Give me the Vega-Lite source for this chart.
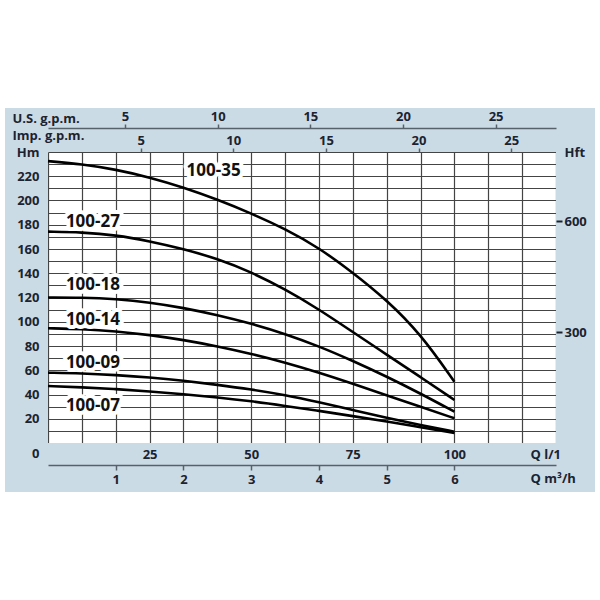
{
  "$schema": "https://vega.github.io/schema/vega-lite/v6.json",
  "width": 508,
  "height": 291,
  "autosize": {"type": "none"},
  "padding": {"left": 48, "top": 152, "right": 44, "bottom": 157},
  "background": "white",
  "config": {
    "view": {"fill": "white", "stroke": null},
    "font": "Open Sans",
    "axis": {
      "labelFont": "Open Sans",
      "labelFontWeight": "bold",
      "labelFontSize": 13,
      "labelColor": "#1b2330",
      "titleFont": "Open Sans",
      "titleFontWeight": "bold",
      "titleFontSize": 13,
      "titleColor": "#1b2330",
      "labelFlush": false,
      "labelOverlap": false
    }
  },
  "datasets": {
    "curves": [
      {"pump": "100-35", "q": 0, "h": 232.5}, {"pump": "100-35", "q": 8.33, "h": 230}, {"pump": "100-35", "q": 16.67, "h": 225.6}, {"pump": "100-35", "q": 25, "h": 219.1}, {"pump": "100-35", "q": 33.33, "h": 210.8}, {"pump": "100-35", "q": 41.67, "h": 200.8}, {"pump": "100-35", "q": 50, "h": 189.4}, {"pump": "100-35", "q": 58.33, "h": 176.6}, {"pump": "100-35", "q": 66.67, "h": 161}, {"pump": "100-35", "q": 75, "h": 140.6}, {"pump": "100-35", "q": 83.33, "h": 118}, {"pump": "100-35", "q": 91.67, "h": 90}, {"pump": "100-35", "q": 100, "h": 50.5},
      {"pump": "100-27", "q": 0, "h": 174.3}, {"pump": "100-27", "q": 8.33, "h": 173.8}, {"pump": "100-27", "q": 16.67, "h": 171.5}, {"pump": "100-27", "q": 25, "h": 166.5}, {"pump": "100-27", "q": 33.33, "h": 160}, {"pump": "100-27", "q": 41.67, "h": 152}, {"pump": "100-27", "q": 50, "h": 141}, {"pump": "100-27", "q": 58.33, "h": 126.8}, {"pump": "100-27", "q": 66.67, "h": 110.3}, {"pump": "100-27", "q": 75, "h": 91.5}, {"pump": "100-27", "q": 83.33, "h": 72.9}, {"pump": "100-27", "q": 91.67, "h": 54.3}, {"pump": "100-27", "q": 100, "h": 35.5},
      {"pump": "100-18", "q": 0, "h": 120}, {"pump": "100-18", "q": 8.33, "h": 120}, {"pump": "100-18", "q": 16.67, "h": 118.8}, {"pump": "100-18", "q": 25, "h": 116}, {"pump": "100-18", "q": 33.33, "h": 111.5}, {"pump": "100-18", "q": 41.67, "h": 105.5}, {"pump": "100-18", "q": 50, "h": 98.5}, {"pump": "100-18", "q": 58.33, "h": 90}, {"pump": "100-18", "q": 66.67, "h": 79.8}, {"pump": "100-18", "q": 75, "h": 67.8}, {"pump": "100-18", "q": 83.33, "h": 54.8}, {"pump": "100-18", "q": 91.67, "h": 40.8}, {"pump": "100-18", "q": 100, "h": 25.8},
      {"pump": "100-14", "q": 0, "h": 94.6}, {"pump": "100-14", "q": 8.33, "h": 94}, {"pump": "100-14", "q": 16.67, "h": 92.2}, {"pump": "100-14", "q": 25, "h": 89.2}, {"pump": "100-14", "q": 33.33, "h": 85}, {"pump": "100-14", "q": 41.67, "h": 79.8}, {"pump": "100-14", "q": 50, "h": 73.6}, {"pump": "100-14", "q": 58.33, "h": 66.4}, {"pump": "100-14", "q": 66.67, "h": 58.1}, {"pump": "100-14", "q": 75, "h": 48.9}, {"pump": "100-14", "q": 83.33, "h": 39.3}, {"pump": "100-14", "q": 91.67, "h": 29.8}, {"pump": "100-14", "q": 100, "h": 20.4},
      {"pump": "100-09", "q": 0, "h": 58}, {"pump": "100-09", "q": 8.33, "h": 57.5}, {"pump": "100-09", "q": 16.67, "h": 56.1}, {"pump": "100-09", "q": 25, "h": 54.2}, {"pump": "100-09", "q": 33.33, "h": 51.4}, {"pump": "100-09", "q": 41.67, "h": 48}, {"pump": "100-09", "q": 50, "h": 44.2}, {"pump": "100-09", "q": 58.33, "h": 39.6}, {"pump": "100-09", "q": 66.67, "h": 33.6}, {"pump": "100-09", "q": 75, "h": 27.2}, {"pump": "100-09", "q": 83.33, "h": 20.8}, {"pump": "100-09", "q": 91.67, "h": 14.8}, {"pump": "100-09", "q": 100, "h": 9.3},
      {"pump": "100-07", "q": 0, "h": 47}, {"pump": "100-07", "q": 8.33, "h": 46}, {"pump": "100-07", "q": 16.67, "h": 44.5}, {"pump": "100-07", "q": 25, "h": 42.5}, {"pump": "100-07", "q": 33.33, "h": 40.2}, {"pump": "100-07", "q": 41.67, "h": 37.6}, {"pump": "100-07", "q": 50, "h": 34.5}, {"pump": "100-07", "q": 58.33, "h": 30.6}, {"pump": "100-07", "q": 66.67, "h": 26.5}, {"pump": "100-07", "q": 75, "h": 22.2}, {"pump": "100-07", "q": 83.33, "h": 17.7}, {"pump": "100-07", "q": 91.67, "h": 13}, {"pump": "100-07", "q": 100, "h": 8.2}
    ],
    "labels": [
      {"label": "100-35", "q": 34.1, "h": 224.6},
      {"label": "100-27", "q": 4.4, "h": 182.5},
      {"label": "100-18", "q": 4.4, "h": 130.3},
      {"label": "100-14", "q": 4.4, "h": 101.4},
      {"label": "100-09", "q": 4.4, "h": 66.2},
      {"label": "100-07", "q": 4.4, "h": 30.5}
    ]
  },
  "layer": [
    {
      "data": {"values": [{"part": "panel top"}]},
      "mark": {"type": "rect", "color": "#cbdbe5"},
      "encoding": {
        "x": {"datum": -10.58, "type": "quantitative", "scale": {"domain": [0, 125], "nice": false, "zero": false}, "axis": null},
        "x2": {"datum": 134.6},
        "y": {"datum": 240, "type": "quantitative", "scale": {"domain": [0, 240], "nice": false, "zero": false}, "axis": null},
        "y2": {"datum": 276.3}
      }
    },
    {
      "data": {"values": [{"part": "panel bottom"}]},
      "mark": {"type": "rect", "color": "#cbdbe5"},
      "encoding": {
        "x": {"datum": -10.58, "type": "quantitative", "scale": {"domain": [0, 125], "nice": false, "zero": false}, "axis": null},
        "x2": {"datum": 134.6},
        "y": {"datum": -40.4, "type": "quantitative", "scale": {"domain": [0, 240], "nice": false, "zero": false}, "axis": null},
        "y2": {"datum": 0}
      }
    },
    {
      "data": {"values": [{"part": "panel left"}]},
      "mark": {"type": "rect", "color": "#cbdbe5"},
      "encoding": {
        "x": {"datum": -10.58, "type": "quantitative", "scale": {"domain": [0, 125], "nice": false, "zero": false}, "axis": null},
        "x2": {"datum": 0},
        "y": {"datum": 0, "type": "quantitative", "scale": {"domain": [0, 240], "nice": false, "zero": false}, "axis": null},
        "y2": {"datum": 240}
      }
    },
    {
      "data": {"values": [{"part": "panel right"}]},
      "mark": {"type": "rect", "color": "#cbdbe5"},
      "encoding": {
        "x": {"datum": 125, "type": "quantitative", "scale": {"domain": [0, 125], "nice": false, "zero": false}, "axis": null},
        "x2": {"datum": 134.6},
        "y": {"datum": 0, "type": "quantitative", "scale": {"domain": [0, 240], "nice": false, "zero": false}, "axis": null},
        "y2": {"datum": 240}
      }
    },
    {
      "data": {"name": "curves"},
      "mark": {"type": "line", "color": "black", "strokeWidth": 2.6, "interpolate": "basis"},
      "encoding": {
        "x": {
          "field": "q", "type": "quantitative",
          "scale": {"domain": [0, 125], "nice": false, "zero": false},
          "axis": {"orient": "bottom", "grid": true, "values": [0, 8.3333, 16.6667, 25, 33.3333, 41.6667, 50, 58.3333, 66.6667, 75, 83.3333, 91.6667, 100, 108.3333, 116.6667, 125], "labels": false, "ticks": false, "domain": false, "title": null, "gridColor": "#444444", "gridWidth": 1.2, "gridOpacity": 1, "zindex": 0}
        },
        "y": {
          "field": "h", "type": "quantitative",
          "scale": {"domain": [0, 240], "nice": false, "zero": false},
          "axis": {"orient": "left", "grid": true, "values": [0, 10, 20, 30, 40, 50, 60, 70, 80, 90, 100, 110, 120, 130, 140, 150, 160, 170, 180, 190, 200, 210, 220, 230, 240], "labels": false, "ticks": false, "domain": false, "title": null, "gridColor": "#444444", "gridWidth": 1.2, "gridOpacity": 1, "zindex": 0}
        },
        "detail": {"field": "pump"}
      }
    },
    {
      "data": {"name": "labels"},
      "mark": {"type": "text", "align": "left", "baseline": "middle", "font": "Open Sans", "fontWeight": "bold", "fontSize": 17, "fill": "white", "stroke": "white", "strokeWidth": 8, "strokeJoin": "round"},
      "encoding": {
        "x": {"field": "q", "type": "quantitative", "scale": {"domain": [0, 125], "nice": false, "zero": false}, "axis": null},
        "y": {"field": "h", "type": "quantitative", "scale": {"domain": [0, 240], "nice": false, "zero": false}, "axis": null},
        "text": {"field": "label"}
      }
    },
    {
      "data": {"name": "labels"},
      "mark": {"type": "text", "align": "left", "baseline": "middle", "font": "Open Sans", "fontWeight": "bold", "fontSize": 17, "fill": "#111111"},
      "encoding": {
        "x": {
          "field": "q", "type": "quantitative",
          "scale": {"domain": [0, 125], "nice": false, "zero": false},
          "axis": {"orient": "bottom", "values": [25, 50, 75, 100], "grid": false, "ticks": false, "tickSize": 0, "domain": false, "labelPadding": 5, "title": "Q l/1", "titleX": 482, "titleY": 11, "titleAlign": "left", "titleBaseline": "middle", "titleAngle": 0, "zindex": 1}
        },
        "y": {
          "field": "h", "type": "quantitative",
          "scale": {"domain": [0, 240], "nice": false, "zero": false},
          "axis": {"orient": "left", "values": [0, 20, 40, 60, 80, 100, 120, 140, 160, 180, 200, 220, 240], "labelExpr": "datum.value == 240 ? 'Hm' : datum.label", "grid": false, "ticks": false, "tickSize": 0, "domain": false, "labelPadding": 9, "labelOffset": {"condition": {"test": "datum.value == 0", "value": 10}, "value": 0}, "title": null, "zindex": 1}
        },
        "text": {"field": "label"}
      }
    },
    {
      "data": {"values": [{"axis": "US gpm"}]},
      "mark": {"type": "point", "opacity": 0},
      "encoding": {
        "x": {
          "datum": 5, "type": "quantitative",
          "scale": {"domain": [0.84, 28.26], "nice": false, "zero": false},
          "axis": {"orient": "top", "offset": 24, "values": [5, 10, 15, 20, 25], "grid": false, "domain": true, "domainColor": "#56616b", "domainWidth": 1.5, "ticks": true, "tickSize": 4, "tickColor": "#56616b", "tickWidth": 1.5, "labelPadding": 1, "title": "U.S. g.p.m.", "titleX": -36, "titleY": -10, "titleAlign": "left", "titleBaseline": "middle", "titleAngle": 0, "zindex": 1}
        }
      }
    },
    {
      "data": {"values": [{"axis": "Imp gpm"}]},
      "mark": {"type": "point", "opacity": 0},
      "encoding": {
        "x": {
          "datum": 5, "type": "quantitative",
          "scale": {"domain": [0, 27.42], "nice": false, "zero": false},
          "axis": {"orient": "top", "offset": 0, "values": [5, 10, 15, 20, 25], "grid": false, "domain": false, "ticks": true, "tickSize": 4, "tickColor": "#56616b", "tickWidth": 1.5, "labelPadding": 1, "title": "Imp. g.p.m.", "titleX": -36, "titleY": -17, "titleAlign": "left", "titleBaseline": "middle", "titleAngle": 0, "zindex": 1}
        }
      }
    },
    {
      "data": {"values": [{"axis": "m3h"}]},
      "mark": {"type": "point", "opacity": 0},
      "encoding": {
        "x": {
          "datum": 1, "type": "quantitative",
          "scale": {"domain": [0, 7.5], "nice": false, "zero": false},
          "axis": {"orient": "bottom", "offset": 22, "values": [1, 2, 3, 4, 5, 6], "grid": false, "domain": true, "domainColor": "#56616b", "domainWidth": 1.5, "ticks": true, "tickSize": 5, "tickColor": "#56616b", "tickWidth": 1.5, "labelPadding": 3, "title": "Q m³/h", "titleX": 482, "titleY": 13, "titleAlign": "left", "titleBaseline": "middle", "titleAngle": 0, "zindex": 1}
        }
      }
    },
    {
      "data": {"values": [{"axis": "Hft"}]},
      "mark": {"type": "point", "opacity": 0},
      "encoding": {
        "y": {
          "datum": 300, "type": "quantitative",
          "scale": {"domain": [0, 787.4016], "nice": false, "zero": false},
          "axis": {"orient": "right", "values": [300, 600, 787.4016], "labelExpr": "datum.value > 700 ? 'Hft' : datum.label", "grid": false, "domain": false, "ticks": true, "tickSize": 6, "tickColor": "#1b2330", "tickWidth": 2, "tickOpacity": {"condition": {"test": "datum.value > 700", "value": 0}, "value": 1}, "labelPadding": 2, "title": null, "zindex": 1}
        }
      }
    }
  ],
  "resolve": {
    "scale": {"x": "independent", "y": "independent"},
    "axis": {"x": "independent", "y": "independent"}
  }
}
